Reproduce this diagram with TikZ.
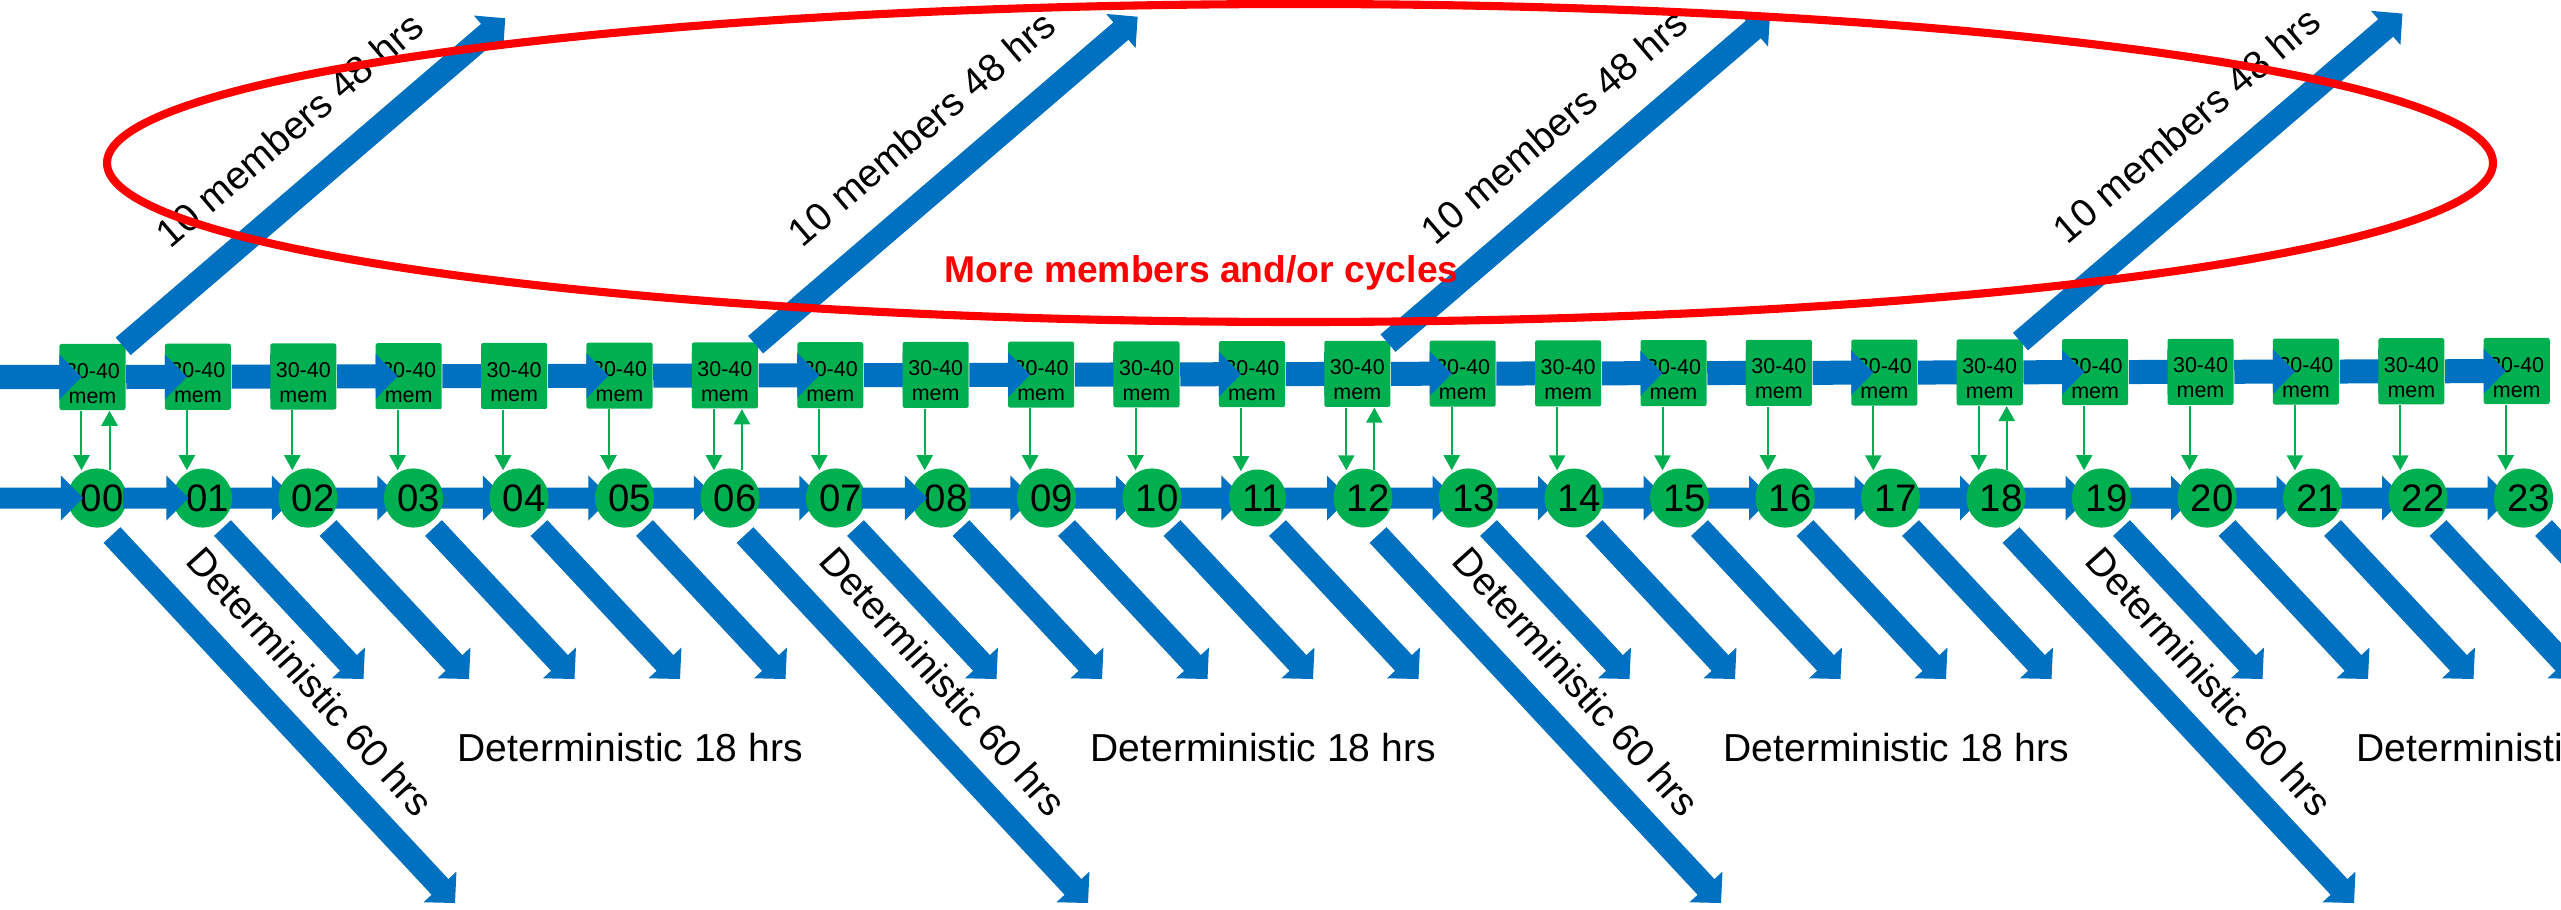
\documentclass[tikz,border=0pt]{standalone}
\usepackage{fontspec}
\setmainfont{Liberation Sans}
\usetikzlibrary{calc,arrows.meta}
\definecolor{pblue}{RGB}{0,112,192}
\definecolor{pgreen}{RGB}{0,176,80}
\definecolor{pred}{RGB}{255,0,0}
\pgfdeclarelayer{back}
\pgfdeclarelayer{front}
\pgfsetlayers{back,main,front}
% #1 half shaft width, #2 start coordinate, #3 end coordinate
\newcommand\bluearrow[3]{%
  \coordinate (bh) at ($(#3)!0.22cm!(#2)$);
  \fill[pblue] ($(#2)!#1!90:(#3)$) -- ($(bh)!#1!90:(#3)$) -- ($(bh)!0.225cm!90:(#3)$) -- (#3)
    -- ($(bh)!0.225cm!-90:(#3)$) -- ($(bh)!#1!-90:(#3)$) -- ($(#2)!#1!-90:(#3)$) -- cycle;}
\newcommand\sqtext{\begin{tabular}[b]{@{}c@{}}30-40\\mem\end{tabular}}
\begin{document}
\begin{tikzpicture}[x=0.01cm,y=-0.01cm,
  sq/.style={fill=pgreen, rounded corners=0.6pt, minimum width=0.66cm, minimum height=0.66cm,
    inner sep=0pt, text height=0.52cm, text depth=0pt, font=\fontsize{6.1pt}{7.1pt}\selectfont},
  circ/.style={circle, fill=pgreen, minimum size=0.57cm, inner sep=0pt,
    font=\fontsize{10.9pt}{12pt}\selectfont},
  gline/.style={draw=pgreen, line width=0.57pt, -{Triangle[width=4.6pt,length=4.3pt]}},
  lbl/.style={font=\fontsize{11.1pt}{13pt}\selectfont, inner sep=0pt}]
\useasboundingbox (0,0) rectangle (2561,909);
\clip (0,0) rectangle (2561,909);

% nodes
\foreach \k in {0,...,23} {
  \node[circ] (c\k) at ({97+105.5*\k},498) {\hspace*{0.1cm}\ifnum\k<10 0\fi\k};
  \node[sq] (s\k) at ({92.5+105.4*\k},{377-6*\k/23}) {\sqtext};
}

% row arrow end points
\coordinate (cst) at (0,498);
\coordinate (sst) at (s0.center -| 0,0);
\coordinate (ce0) at ([xshift=-0.14cm]c0.center);
\coordinate (se0) at ([xshift=-0.11cm]s0.center);
\foreach \k in {1,...,23} {
  \pgfmathtruncatemacro\j{\k-1}
  \coordinate (cs\k) at ([xshift=0.26cm]c\j.center);
  \coordinate (ce\k) at ([xshift=-0.14cm]c\k.center);
  \coordinate (ss\k) at (s\j.east);
  \coordinate (se\k) at ([xshift=-0.11cm]s\k.center);
}

% arrows behind the nodes
\begin{pgfonlayer}{back}
  \foreach \k in {2,...,7,9,10,...,23} { \bluearrow{0.105cm}{cs\k}{ce\k} }
  \foreach \k in {2,4,...,22} { \bluearrow{0.12cm}{ss\k}{se\k} }
\end{pgfonlayer}
% arrows in front of the nodes
\begin{pgfonlayer}{front}
  \bluearrow{0.105cm}{cst}{ce0}
  \foreach \k in {1,8} { \bluearrow{0.105cm}{cs\k}{ce\k} }
  \bluearrow{0.12cm}{sst}{se0}
  \foreach \k in {1,3,...,23} { \bluearrow{0.12cm}{ss\k}{se\k} }
\end{pgfonlayer}

% green connectors
\foreach \k in {0,...,23} {
  \draw[gline] ([xshift=-0.11cm]s\k.south) -- ([xshift=-0.11cm,yshift=-0.025cm]s\k.south |- c\k.north);
}
\foreach \k in {0,6,12,18} {
  \draw[gline] ([xshift=0.17cm,yshift=-0.025cm]s\k.south |- c\k.north) -- ([xshift=0.17cm]s\k.south);
}

% short deterministic arrows
\foreach \k in {1,...,5,7,8,...,11,13,14,...,17,19,20,...,23} {
  \coordinate (dt\k) at ([shift={(20,30)}]c\k.center);
  \coordinate (dh\k) at ([shift={(161,181)}]c\k.center);
  \bluearrow{0.115cm}{dt\k}{dh\k}
}
% long deterministic and ensemble arrows
\foreach \k in {0,6,12,18} {
  \coordinate (lt\k) at ([shift={(15,37)}]c\k.center);
  \coordinate (lh\k) at ([shift={(358,405)}]c\k.center);
  \bluearrow{0.115cm}{lt\k}{lh\k}
  \node[lbl, rotate=-48, anchor=base] at ([shift={(188,156)}]lt\k) {Deterministic 60 hrs};
  \coordinate (ut\k) at ([shift={(-3,3)}]s\k.north east);
  \coordinate (uh\k) at ([shift={(379,-325)}]s\k.north east);
  \bluearrow{0.115cm}{ut\k}{uh\k}
  \node[lbl, rotate=40.6, anchor=base] at ([shift={(175,-206)}]ut\k) {10 members 48 hrs};
}
\foreach \i in {0,...,3} {
  \node[lbl, anchor=base west] at ({457+633*\i},761) {Deterministic 18 hrs};
}

% red ellipse and text
\node[font=\bfseries\fontsize{10.6pt}{12pt}\selectfont, text=pred, anchor=base west, inner sep=0pt]
  (more) at (944,282) {More members and/or cycles};
\draw[pred, line width=2.3pt] (1300,163) ellipse [x radius=1193, y radius=159];
\end{tikzpicture}
\end{document}
